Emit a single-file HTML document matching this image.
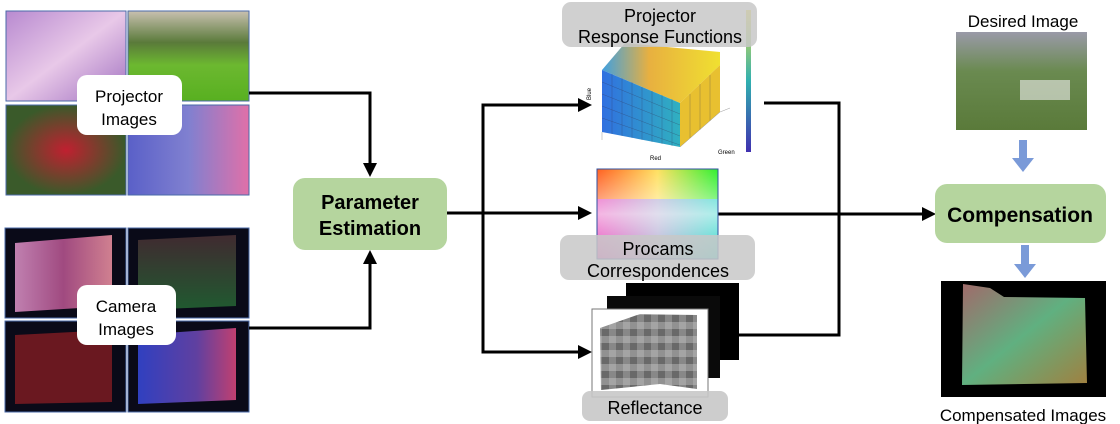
<!DOCTYPE html>
<html><head><meta charset="utf-8"><style>
body{margin:0;background:#fff;}
svg{display:block;font-family:"Liberation Sans",sans-serif;}
</style></head><body>
<svg width="1120" height="424" viewBox="0 0 1120 424" xmlns="http://www.w3.org/2000/svg">
<defs>
<linearGradient id="lav" x1="0" y1="0" x2="1" y2="1"><stop offset="0" stop-color="#b88ad0"/><stop offset="0.5" stop-color="#e8c8e8"/><stop offset="1" stop-color="#a070c0"/></linearGradient>
<linearGradient id="gar" x1="0" y1="0" x2="0" y2="1"><stop offset="0" stop-color="#c8c0b0"/><stop offset="0.35" stop-color="#5a7a3a"/><stop offset="0.6" stop-color="#6cb830"/><stop offset="1" stop-color="#58b020"/></linearGradient>
<radialGradient id="rose"><stop offset="0" stop-color="#c02030"/><stop offset="1" stop-color="#3a5a2a"/></radialGradient>
<linearGradient id="tul" x1="0" y1="0" x2="1" y2="0"><stop offset="0" stop-color="#5a60c8"/><stop offset="0.5" stop-color="#8080d0"/><stop offset="1" stop-color="#e070a8"/></linearGradient>
<linearGradient id="c1" x1="0" y1="0" x2="1" y2="0"><stop offset="0" stop-color="#c080b0"/><stop offset="0.5" stop-color="#a04a80"/><stop offset="1" stop-color="#d08090"/></linearGradient>
<linearGradient id="c2" x1="0" y1="0" x2="0" y2="1"><stop offset="0" stop-color="#402a30"/><stop offset="1" stop-color="#205a30"/></linearGradient>
<linearGradient id="c4" x1="0" y1="0" x2="1" y2="0"><stop offset="0" stop-color="#3040c0"/><stop offset="0.6" stop-color="#6040a0"/><stop offset="1" stop-color="#c04070"/></linearGradient>
<linearGradient id="cw" x1="0" y1="0" x2="1" y2="0"><stop offset="0" stop-color="#ff6020"/><stop offset="0.5" stop-color="#ffe060"/><stop offset="1" stop-color="#30f030"/></linearGradient>
<linearGradient id="cw2" x1="0" y1="0" x2="0" y2="1"><stop offset="0" stop-color="#fff" stop-opacity="0"/><stop offset="0.5" stop-color="#fff" stop-opacity="0.6"/><stop offset="1" stop-color="#fff" stop-opacity="0"/></linearGradient>
<linearGradient id="cw3" x1="0" y1="0" x2="1" y2="0"><stop offset="0" stop-color="#e040e0"/><stop offset="0.5" stop-color="#a0a0f0"/><stop offset="1" stop-color="#30d0f0"/></linearGradient>
<linearGradient id="bar" x1="0" y1="0" x2="0" y2="1"><stop offset="0" stop-color="#f0e040"/><stop offset="0.5" stop-color="#30b0b0"/><stop offset="1" stop-color="#4030b0"/></linearGradient>
<linearGradient id="top" x1="0" y1="0" x2="1" y2="0"><stop offset="0" stop-color="#40a0e0"/><stop offset="0.4" stop-color="#e8b040"/><stop offset="1" stop-color="#f0e030"/></linearGradient>
<linearGradient id="fr" x1="0" y1="0" x2="1" y2="0"><stop offset="0" stop-color="#3070e0"/><stop offset="1" stop-color="#30b0c0"/></linearGradient>
<linearGradient id="des" x1="0" y1="0" x2="0" y2="1"><stop offset="0" stop-color="#9a9aa8"/><stop offset="0.4" stop-color="#6a8a50"/><stop offset="1" stop-color="#5a7a3a"/></linearGradient>
<linearGradient id="cmp" x1="0" y1="0" x2="1" y2="1"><stop offset="0" stop-color="#a06a6a"/><stop offset="0.5" stop-color="#60b080"/><stop offset="1" stop-color="#a08040"/></linearGradient>
<pattern id="chk" width="14" height="14" patternUnits="userSpaceOnUse"><rect width="14" height="14" fill="#888"/><rect width="7" height="14" fill="#555" opacity="0.6"/><rect width="14" height="7" fill="#ccc" opacity="0.4"/></pattern>
</defs>

<rect x="6" y="11" width="120" height="90" fill="url(#lav)" stroke="#4a6aa8"/>
<rect x="128" y="11" width="121" height="90" fill="url(#gar)" stroke="#4a6aa8"/>
<rect x="6" y="105" width="120" height="90" fill="url(#rose)" stroke="#4a6aa8"/>
<rect x="128" y="105" width="121" height="90" fill="url(#tul)" stroke="#4a6aa8"/>
<rect x="77" y="75" width="105" height="60" rx="10" fill="#fff"/>
<text x="129" y="102" font-size="17" text-anchor="middle">Projector</text>
<text x="129" y="125" font-size="17" text-anchor="middle">Images</text>

<rect x="5" y="228" width="121" height="90" fill="#0a0a18" stroke="#4a6aa8"/>
<polygon points="15,243 112,235 112,306 15,312" fill="url(#c1)"/>
<rect x="128" y="228" width="121" height="90" fill="#0a0a18" stroke="#4a6aa8"/>
<polygon points="138,240 236,235 236,306 138,310" fill="url(#c2)"/>
<rect x="5" y="321" width="121" height="91" fill="#0a0a18" stroke="#4a6aa8"/>
<polygon points="15,335 112,330 112,402 15,404" fill="#6a1820"/>
<rect x="128" y="321" width="121" height="91" fill="#0a0a18" stroke="#4a6aa8"/>
<polygon points="138,335 236,328 236,400 138,404" fill="url(#c4)"/>
<rect x="77" y="285" width="99" height="60" rx="10" fill="#fff"/>
<text x="126" y="312" font-size="17" text-anchor="middle">Camera</text>
<text x="126" y="335" font-size="17" text-anchor="middle">Images</text>

<g stroke="#000" stroke-width="3" fill="none">
<path d="M249,93 H370 V165"/>
<path d="M249,328 H370 V262"/>
<path d="M447,213 H580"/>
<path d="M483,213 V105 H580"/>
<path d="M483,213 V352 H580"/>
<path d="M764,103 H839 V335 H739"/>
<path d="M718,214 H924"/>
</g>
<g fill="#000">
<polygon points="363,163 377,163 370,177"/>
<polygon points="363,264 377,264 370,250"/>
<polygon points="578,206 578,220 592,213"/>
<polygon points="578,98 578,112 592,105"/>
<polygon points="578,345 578,359 592,352"/>
<polygon points="922,207 922,221 936,214"/>
</g>

<rect x="293" y="178" width="154" height="72" rx="12" fill="#b5d59e"/>
<text x="370" y="209" font-size="20" font-weight="bold" text-anchor="middle">Parameter</text>
<text x="370" y="235" font-size="20" font-weight="bold" text-anchor="middle">Estimation</text>

<polygon points="602,70 625,43 720,52 720,65 680,103" fill="url(#top)"/>
<polygon points="602,70 680,103 680,147 602,132" fill="url(#fr)"/>
<polygon points="680,103 720,65 720,112 680,147" fill="#e8c030"/>
<g stroke="#335" stroke-width="0.4" opacity="0.6">
<path d="M612,74 V134 M622,78 V136 M632,82 V138 M642,87 V140 M652,91 V142 M662,95 V144 M672,99 V146 M602,82 L680,114 M602,94 L680,125 M602,106 L680,136 M602,118 L680,145 M690,94 V138 M700,84 V130 M710,75 V121"/>
</g>
<path d="M680,147 L720,112 L730,108 M602,132 L602,140" stroke="#999" stroke-width="0.5" fill="none"/>
<rect x="746" y="10" width="5" height="142" fill="url(#bar)"/>
<text x="591" y="100" font-size="6" transform="rotate(-90 591 100)">Blue</text>
<text x="650" y="160" font-size="6">Red</text>
<text x="718" y="154" font-size="6">Green</text>
<rect x="562" y="2" width="195" height="45" rx="9" fill="#c8c8c8" opacity="0.85"/>
<text x="660" y="22" font-size="18" text-anchor="middle">Projector</text>
<text x="660" y="43" font-size="18" text-anchor="middle">Response Functions</text>

<rect x="597" y="169" width="121" height="90" fill="url(#cw)"/>
<rect x="597" y="199" width="121" height="60" fill="url(#cw3)" opacity="0.8"/>
<rect x="597" y="169" width="121" height="90" fill="url(#cw2)"/>
<rect x="597" y="169" width="121" height="90" fill="none" stroke="#3050a0"/>
<rect x="560" y="235" width="195" height="45" rx="9" fill="#c8c8c8" opacity="0.85"/>
<text x="658" y="255" font-size="18" text-anchor="middle">Procams</text>
<text x="658" y="277" font-size="18" text-anchor="middle">Correspondences</text>

<rect x="626" y="283" width="113" height="77" fill="#000"/>
<rect x="607" y="296" width="113" height="82" fill="#0a0a0a"/>
<rect x="592" y="309" width="116" height="88" fill="#fff" stroke="#777"/>
<polygon points="600,328 640,314 697,315 697,389 660,384 601,390" fill="url(#chk)"/>
<rect x="582" y="391" width="146" height="30" rx="8" fill="#c8c8c8" opacity="0.9"/>
<text x="655" y="414" font-size="18" text-anchor="middle">Reflectance</text>

<text x="1023" y="27" font-size="17" text-anchor="middle">Desired Image</text>
<rect x="956" y="32" width="131" height="98" fill="url(#des)"/>
<rect x="1020" y="80" width="50" height="20" fill="#eee" opacity="0.6"/>
<path d="M1023,140 V160" stroke="#7a9ad8" stroke-width="8"/>
<polygon points="1012,158 1034,158 1023,172" fill="#7a9ad8"/>
<rect x="935" y="184" width="171" height="59" rx="12" fill="#b5d59e"/>
<text x="1020" y="222" font-size="21" font-weight="bold" text-anchor="middle">Compensation</text>
<path d="M1025,245 V266" stroke="#7a9ad8" stroke-width="8"/>
<polygon points="1014,264 1036,264 1025,278" fill="#7a9ad8"/>
<rect x="941" y="281" width="165" height="116" fill="#000"/>
<polygon points="963,284 990,288 1004,297 1085,298 1087,383 962,385" fill="url(#cmp)"/>
<text x="1023" y="421" font-size="17" text-anchor="middle">Compensated Images</text>
</svg>
</body></html>
